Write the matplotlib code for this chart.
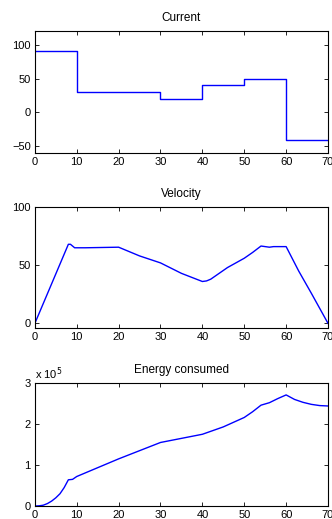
import matplotlib
matplotlib.use('Agg')
import matplotlib.pyplot as plt

plt.rcParams['font.family'] = ['Liberation Sans', 'DejaVu Sans']
plt.rcParams['font.size'] = 8

# current (step)
t_cur = [0, 10, 10, 30, 30, 40, 40, 50, 50, 60, 60, 70]
cur = [90, 90, 30, 30, 20, 20, 40, 40, 50, 50, -40, -40]

# velocity
t_vel = [0, 8, 8.5, 9.5, 12, 20, 25, 30, 35, 40, 41, 42, 46, 50, 52, 54, 55, 56, 57, 60, 63, 66, 70]
vel = [0, 68, 68, 65, 65, 65.5, 58, 52, 43, 36, 36.5, 38, 48, 56, 61, 66.5, 66, 65.5, 66, 66, 45, 26, 0]

# energy consumed (x 1e5)
t_en = [0, 1, 2, 3, 4, 5, 6, 7, 8, 9, 10, 20, 30, 35, 40, 45, 50, 52, 54, 56, 58, 60, 62, 64, 66, 68, 70]
energy = [0, 0.005, 0.02, 0.06, 0.12, 0.2, 0.3, 0.45, 0.64, 0.65, 0.72, 1.15, 1.55, 1.65, 1.75, 1.93, 2.16, 2.3, 2.46, 2.52, 2.62, 2.71, 2.6, 2.53, 2.48, 2.45, 2.44]

fig = plt.figure(figsize=(3.32, 5.19), dpi=100)
ax1 = fig.add_axes([0.105, 0.705, 0.883, 0.235])
ax2 = fig.add_axes([0.105, 0.368, 0.883, 0.233])
ax3 = fig.add_axes([0.105, 0.025, 0.883, 0.237])

for ax in (ax1, ax2, ax3):
    ax.set_xlim(0, 70)
    ax.set_xticks(range(0, 71, 10))
    ax.tick_params(direction='in', top=True, right=True, length=3, width=0.6, pad=3)
    for s in ax.spines.values():
        s.set_linewidth(0.8)

ax1.plot(t_cur, cur, color='blue', lw=1)
ax1.set_ylim(-60, 120)
ax1.set_yticks([-50, 0, 50, 100])
ax1.set_yticklabels(['\u221250', '0', '50', '100'])
ax1.set_title('Current', fontsize=8.5, pad=7)

ax2.plot(t_vel, vel, color='blue', lw=1)
ax2.set_ylim(-4, 100)
ax2.set_yticks([0, 50, 100])
ax2.set_title('Velocity', fontsize=8.5, pad=7)

ax3.plot(t_en, energy, color='blue', lw=1)
ax3.set_ylim(0, 3)
ax3.set_yticks([0, 1, 2, 3])
ax3.set_title('Energy consumed', fontsize=8.5, pad=7)
ax3.text(0, 1.01, 'x 10$^5$', transform=ax3.transAxes, fontsize=8, va='bottom', ha='left')

fig.savefig('out.png', dpi=100)
